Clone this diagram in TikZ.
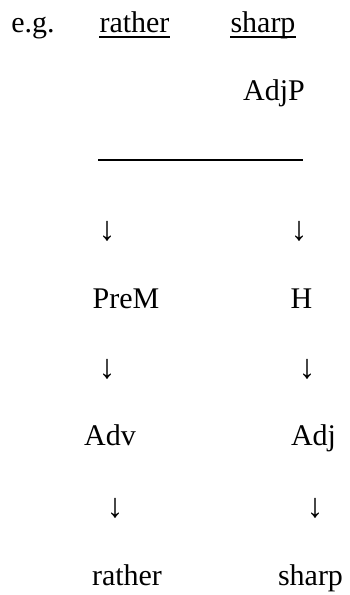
\documentclass[tikz,border=0pt]{standalone}
\usepackage{fontspec}
\setmainfont{Liberation Serif}
\usetikzlibrary{positioning}
\tikzset{
    %Define style for words and labels
    word/.style={
           font=\fontsize{30}{36}\selectfont,
           inner sep=0pt,
           anchor=base},
    %Define style for the down arrows
    down/.style={
           font=\fontsize{34}{40}\selectfont,
           inner sep=0pt},
    % Define line styles
    uline/.style={
           line width=1.4pt},
    bar/.style={
           line width=2pt}
}

\begin{document}
\begin{tikzpicture}[x=1pt, y=-1pt]
 \useasboundingbox (0,0) rectangle (350,595);
 %example line
    \node[word] (eg) at (33,32) {e.g.};
    \node[word] (rathertop) at (134.5,32) {rather};
    \node[word] (sharptop) at (263,32) {sharp};
    \draw[uline] ([yshift=-5pt]rathertop.base west) -- ([yshift=-5pt]rathertop.base east);
    \draw[uline] ([yshift=-5pt]sharptop.base west) -- ([yshift=-5pt]sharptop.base east);
 %phrase and its bar
    \node[word] (adjp) at (274,100) {AdjP};
    \draw[bar] (98,160) -- (303,160);
 %left column
    \node[down] (dl1) at (107,231) {↓};
    \node[word] (prem) at (126,308) {PreM};
    \node[down] (dl2) at (107,369) {↓};
    \node[word] (adv) at (110,445) {Adv};
    \node[down] (dl3) at (115,508) {↓};
    \node[word] (rather) at (127,585) {rather};
 %right column
    \node[down] (dr1) at (299,231) {↓};
    \node[word] (head) at (301.5,308) {H};
    \node[down] (dr2) at (307,369) {↓};
    \node[word] (adj) at (313.5,445) {Adj};
    \node[down] (dr3) at (315,508) {↓};
    \node[word] (sharp) at (310.5,585) {sharp};
\end{tikzpicture}
\end{document}
